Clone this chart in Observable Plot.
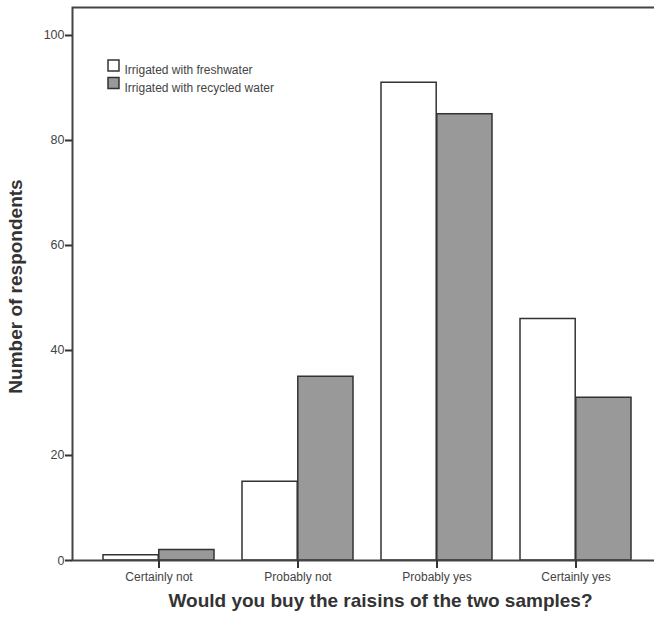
<!DOCTYPE html>
<html>
<head>
<meta charset="utf-8">
<script src="https://cdn.jsdelivr.net/npm/d3@7"></script>
<script src="https://cdn.jsdelivr.net/npm/@observablehq/plot@0.6"></script>
<style>
  html, body { margin: 0; padding: 0; background: #fff; }
  #chart { width: 654px; height: 621px; overflow: hidden; }
</style>
</head>
<body>
<div id="chart"></div>
<script>
const categories = ["Certainly not", "Probably not", "Probably yes", "Certainly yes"];
const seriesNames = ["Irrigated with freshwater", "Irrigated with recycled water"];
const freshwater = [1, 15, 91, 46];
const recycled = [2, 35, 85, 31];
const yTicks = [0, 20, 40, 60, 80, 100];
const xTitle = "Would you buy the raisins of the two samples?";
const yTitle = "Number of respondents";
const seriesFill = ["#ffffff", "#999999"];

const freshData = categories.map((c, i) => ({cat: c, value: freshwater[i]}));
const recycData = categories.map((c, i) => ({cat: c, value: recycled[i]}));

const font = "'Liberation Sans', Arial, sans-serif";
const half = 55.8;

const chart = Plot.plot({
  width: 654,
  height: 621,
  marginLeft: 72,
  marginRight: -8,
  marginTop: 7,
  marginBottom: 61,
  style: {fontFamily: font, background: "#fff", overflow: "hidden"},
  x: {domain: categories, range: [72, 662], paddingInner: 0.2, paddingOuter: 0.215, label: null},
  y: {domain: [0, 105.33], range: [560, 7], label: null},
  marks: [
    Plot.barY(freshData, {x: "cat", y: "value", fill: seriesFill[0], stroke: "#333", strokeWidth: 1.5, insetRight: half}),
    Plot.barY(recycData, {x: "cat", y: "value", fill: seriesFill[1], stroke: "#333", strokeWidth: 1.5, insetLeft: half}),
    Plot.frame({stroke: "#444", strokeWidth: 2}),
    Plot.axisY({ticks: yTicks, tickSize: 7, tickPadding: 1, fontSize: 12.5, stroke: "#333", strokeWidth: 2, color: "#444", label: null}),
    Plot.axisX({tickSize: 8, tickPadding: 4, fontSize: 12, stroke: "#333", strokeWidth: 2, color: "#444", label: null}),
    Plot.text([xTitle], {text: d => d, frameAnchor: "bottom", textAnchor: "middle", dx: 13, dy: 46, fontSize: 19, fontWeight: "bold", fill: "#333"}),
    Plot.text([yTitle], {text: d => d, frameAnchor: "left", textAnchor: "middle", dx: -56.5, dy: 2.5, rotate: -90, fontSize: 19, fontWeight: "bold", fill: "#333"}),
    ...seriesNames.flatMap((s, i) => [
      Plot.dot([s], {frameAnchor: "top-left", dx: 41, dy: 58 + i * 17.5, symbol: "square", r: 6.2, fill: seriesFill[i], stroke: "#333", strokeWidth: 1.5}),
      Plot.text([s], {text: d => d, frameAnchor: "top-left", dx: 52, dy: 58 + i * 17.5, textAnchor: "start", fontSize: 12, fill: "#444"})
    ])
  ]
});
document.getElementById("chart").appendChild(chart);
</script>
</body>
</html>
